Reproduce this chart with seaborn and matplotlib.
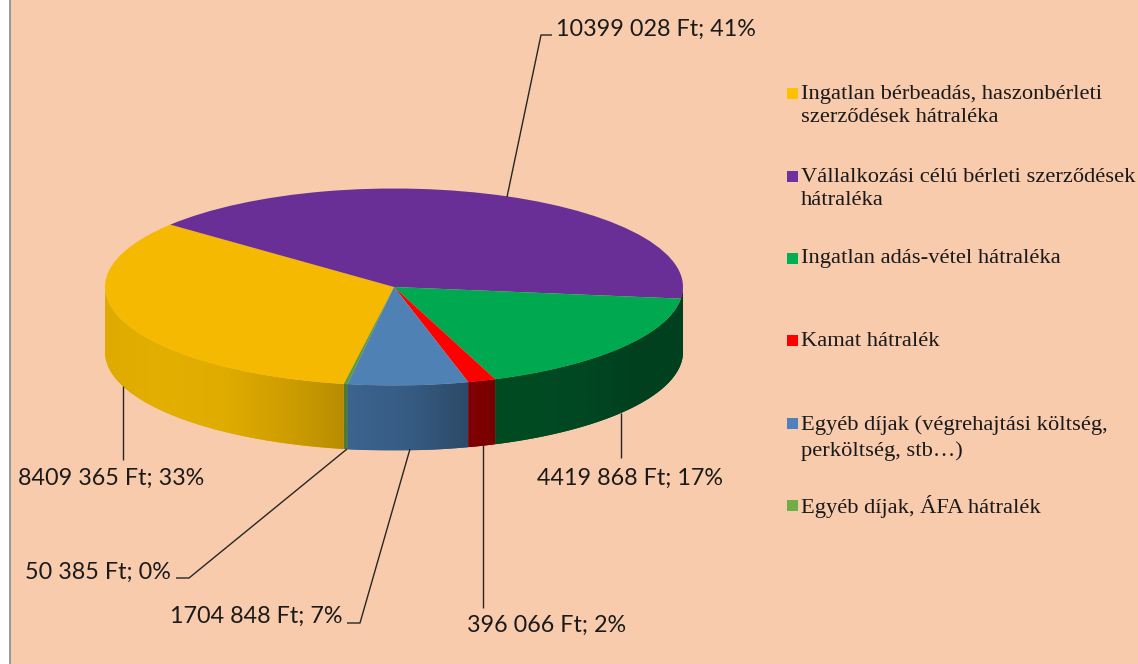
import numpy as np
import matplotlib
matplotlib.use("Agg")
import matplotlib.pyplot as plt
from matplotlib.colors import LinearSegmentedColormap
from matplotlib.patches import Polygon, Rectangle
import seaborn as sns

categories = [
    "Ingatlan bérbeadás, haszonbérleti\nszerződések hátraléka",
    "Vállalkozási célú bérleti szerződések\nhátraléka",
    "Ingatlan adás-vétel hátraléka",
    "Kamat hátralék",
    "Egyéb díjak (végrehajtási költség,\nperköltség, stb…)",
    "Egyéb díjak, ÁFA hátralék",
]
values = [8409365, 10399028, 4419868, 396066, 1704848, 50385]
value_labels = [
    "8409 365 Ft; 33%",
    "10399 028 Ft; 41%",
    "4419 868 Ft; 17%",
    "396 066 Ft; 2%",
    "1704 848 Ft; 7%",
    "50 385 Ft; 0%",
]

colors = ["#f4b900", "#6a2f96", "#00a84f", "#ff0000", "#4f81b5", "#5d9c3c"]
legend_colors = ["#ffc000", "#7030a0", "#00b050", "#ff0000", "#4f81bd", "#70ad47"]
wall_ramps = [
    ["#dfab00", "#e3af00", "#e0ac00", "#cf9f00", "#b88c00"],
    ["#00401f", "#00401f"],
    ["#004a22", "#004a22", "#004722", "#00401f", "#00401f"],
    ["#800000", "#7a0000"],
    ["#3c6490", "#375c84", "#2c4a68"],
    ["#4f7a36", "#4f7a36"],
]

W, H = 1138, 664
CX, CY, RX, RY, DEPTH = 394, 287, 289, 98.5, 65
START = 260

sns.set_theme(style="white")
fig = plt.figure(figsize=(W / 100, H / 100), dpi=100, facecolor="white")

bg = fig.add_axes([0, 0, 1, 1], zorder=0)
bg.set_xlim(0, W)
bg.set_ylim(H, 0)
bg.axis("off")
bg.add_patch(Rectangle((10, -2), W, H + 4, facecolor="#f8cbad", edgecolor="#8a8a8a", lw=1.2))

ax = fig.add_axes([0, 0, 1, 1], zorder=1)
ax.patch.set_alpha(0)
ax.pie(values, colors=colors, startangle=START, counterclock=False, radius=1,
       wedgeprops=dict(linewidth=0, zorder=3))
ax.set_aspect("auto")
xlim = (-CX / RX, (W - CX) / RX)
ylim = (-(H - CY) / RY, CY / RY)

# Side wall: a horizontal gradient clipped to each wedge's visible rim
d = DEPTH / RY
edges = START - np.concatenate([[0], np.cumsum(values)]) / np.sum(values) * 360
for i in range(len(values)):
    th = np.radians(np.linspace(edges[i], edges[i + 1], 240))
    th = th[np.sin(th) <= 0.0]
    if len(th) < 2:
        continue
    x, y = np.cos(th), np.sin(th)
    outline = np.vstack([np.column_stack([x, y]), np.column_stack([x[::-1], y[::-1] - d])])
    poly = Polygon(outline, closed=True, facecolor=wall_ramps[i][0], edgecolor="none", zorder=1)
    ax.add_patch(poly)
    cmap = LinearSegmentedColormap.from_list(f"wall{i}", wall_ramps[i])
    grad = np.linspace(0, 1, 256).reshape(1, -1)
    im = ax.imshow(grad, cmap=cmap, aspect="auto", zorder=2,
                   extent=(x.min(), x.max(), (y - d).min(), y.max()))
    im.set_clip_path(poly)
ax.set_aspect("auto")
ax.set_xlim(*xlim)
ax.set_ylim(*ylim)
ax.axis("off")

fg = fig.add_axes([0, 0, 1, 1], zorder=2)
fg.patch.set_alpha(0)
fg.set_xlim(0, W)
fg.set_ylim(H, 0)
fg.axis("off")

LABEL_FONT = "Lato"
LABEL_SIZE = 16.8
label_pos = [(111, 478), (656, 29), (630, 478), (547, 625), (256, 616), (98, 572)]
for s, (x, y) in zip(value_labels, label_pos):
    fg.text(x, y, s, ha="center", va="center", fontsize=LABEL_SIZE, family=LABEL_FONT, color="#1a1a1a")

leaders = [
    ([123, 123], [386, 460]),
    ([507, 541, 552], [197, 35, 35]),
    ([621, 621], [413, 458]),
    ([483, 483], [445, 608]),
    ([410, 360, 347], [449, 623, 623]),
    ([347, 189, 176], [449, 578, 578]),
]
for xs, ys in leaders:
    fg.plot(xs, ys, color="#262626", lw=1.0, solid_capstyle="butt")

legend_y = [93, 176, 258, 340, 423, 505]
text_y = [106, 189, 259, 341, 438, 506]
spacing = [1.33, 1.3, 1.13, 1.13, 1.42, 1.13]
for c, name, ys, ty, sp in zip(legend_colors, categories, legend_y, text_y, spacing):
    fg.add_patch(Rectangle((787, ys - 5.5), 11, 11, facecolor=c, edgecolor="none"))
    fg.text(801, ty, name, ha="left", va="center", fontsize=16.2, family="Liberation Serif",
            color="#1a1a1a", linespacing=sp)

fig.savefig("out.png", dpi=100)
